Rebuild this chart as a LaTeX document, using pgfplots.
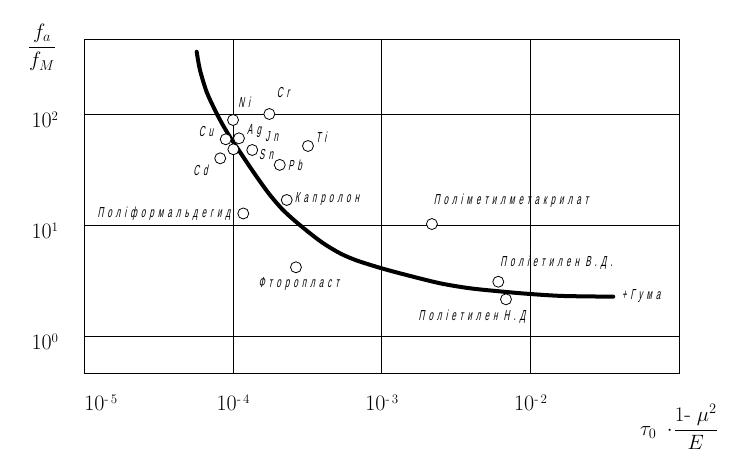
\documentclass[border=0pt]{standalone}
\usepackage{pgfplots}
\pgfplotsset{compat=1.18}
\usepackage{fontspec}
\newfontfamily\lab[FakeSlant=0.2,FakeStretch=0.55,LetterSpace=28]{Liberation Sans}
\newcommand\labfont{\lab\fontsize{14.5}{16}\selectfont}
\newcommand\supr[1]{\raisebox{0.75ex}{\fontsize{13}{13}\selectfont #1}}
\begin{document}
\begin{tikzpicture}
\path[use as bounding box] (-84.3pt,-90.7pt) rectangle (667.7pt,373.3pt);
\begin{axis}[
  at={(0,0)}, anchor=south west,
  scale only axis, width=595pt, height=334pt,
  xmode=log, ymode=log,
  xmin=1e-5, xmax=1e-1, ymin=0.461, ymax=471,
  xtick={1e-5,1e-4,1e-3,1e-2}, ytick={1,10,100},
  minor xtick={}, minor ytick={},
  xticklabels={\phantom{10\supr{-\,5}}10\supr{-\,5}, 10\supr{-\,4}, 10\supr{-\,3}, 10\supr{-\,2}},
  yticklabels={10\supr{0}, 10\supr{1}, 10\supr{2}},
  grid=major, major grid style={black, line width=0.8pt},
  axis line style={black, line width=0.8pt},
  major tick length=0pt, minor tick length=0pt,
  xticklabel style={anchor=north, inner sep=0pt, yshift=-21pt, font=\fontsize{22}{26}\selectfont},
  yticklabel style={anchor=east, inner sep=0pt, xshift=-26pt, yshift=-6pt, font=\fontsize{22}{26}\selectfont},
  ylabel={$\displaystyle\frac{f_a}{f_M}$},
  ylabel style={at={(axis description cs:-0.0711,0.975)}, anchor=center, rotate=-90, font=\fontsize{22}{26}\selectfont},
  xlabel={$\tau_0\;\cdot\!\displaystyle\frac{1\mbox{-}\;\mu^2}{E}$},
  xlabel style={at={(axis description cs:0.9995,-0.161)}, anchor=center, font=\fontsize{22}{26}\selectfont},
]
\addplot[black, line width=4pt, smooth, tension=0.5, line cap=round] coordinates {
(5.696e-5,364) (5.995e-5,249.1) (6.651e-5,157.8) (7.56e-5,108.6) (8.43e-5,82.1)
(9.54e-5,62.06) (1.113e-4,45.47) (1.300e-4,33.3) (1.518e-4,24.66) (1.771e-4,18.63)
(2.134e-4,13.94) (2.609e-4,10.87) (3.291e-4,8.42)
(4.045e-4,6.84) (5.236e-4,5.56) (6.78e-4,4.79) (9.98e-4,4.07) (1.470e-3,3.54)
(2.461e-3,2.985) (3.916e-3,2.69) (6.558e-3,2.506) (9.915e-3,2.39) (1.661e-2,2.293)
(3.599e-2,2.26)
};
\addplot[only marks, mark=*, mark size=5.5pt, mark options={fill=white, draw=black, line width=0.8pt}] coordinates {
(1.00e-4,88.3) (1.754e-4,100) (8.93e-5,59.2) (1.096e-4,60.4) (1.005e-4,48.1)
(1.346e-4,47.4) (8.20e-5,39.9) (2.061e-4,34.8) (3.19e-4,51.5) (2.296e-4,16.8)
(1.172e-4,12.7) (2.649e-4,4.16) (2.173e-3,10.2) (6.07e-3,3.08) (6.84e-3,2.14)
};
\node[font=\labfont] at (axis cs:1.186e-4,127) {Ni};
\node[font=\labfont] at (axis cs:2.168e-4,155) {Cr};
\node[font=\labfont] at (axis cs:6.58e-5,68.9) {Cu};
\node[font=\labfont] at (axis cs:1.384e-4,70.3) {Ag};
\node[font=\labfont] at (axis cs:1.82e-4,62.1) {Jn};
\node[font=\labfont] at (axis cs:1.667e-4,43.6) {Sn};
\node[font=\labfont] at (axis cs:6.04e-5,30.8) {Cd};
\node[font=\labfont] at (axis cs:2.61e-4,34.7) {Pb};
\node[font=\labfont] at (axis cs:3.90e-4,62.1) {Ti};
\node[font=\labfont] at (axis cs:4.28e-4,17.1) {Капролон};
\node[font=\labfont] at (axis cs:3.43e-5,12.7) {Поліформальдегид};
\node[font=\labfont] at (axis cs:2.77e-4,2.94) {Фторопласт};
\node[font=\labfont] at (axis cs:7.40e-3,16.5) {Поліметилметакрилат};
\node[font=\labfont] at (axis cs:1.493e-2,4.55) {Поліетилен В.Д.};
\node[font=\labfont] at (axis cs:5.53e-2,2.29) {+Гума};
\node[font=\labfont] at (axis cs:4.24e-3,1.48) {Поліетилен Н.Д.};
\end{axis}
\end{tikzpicture}
\end{document}
